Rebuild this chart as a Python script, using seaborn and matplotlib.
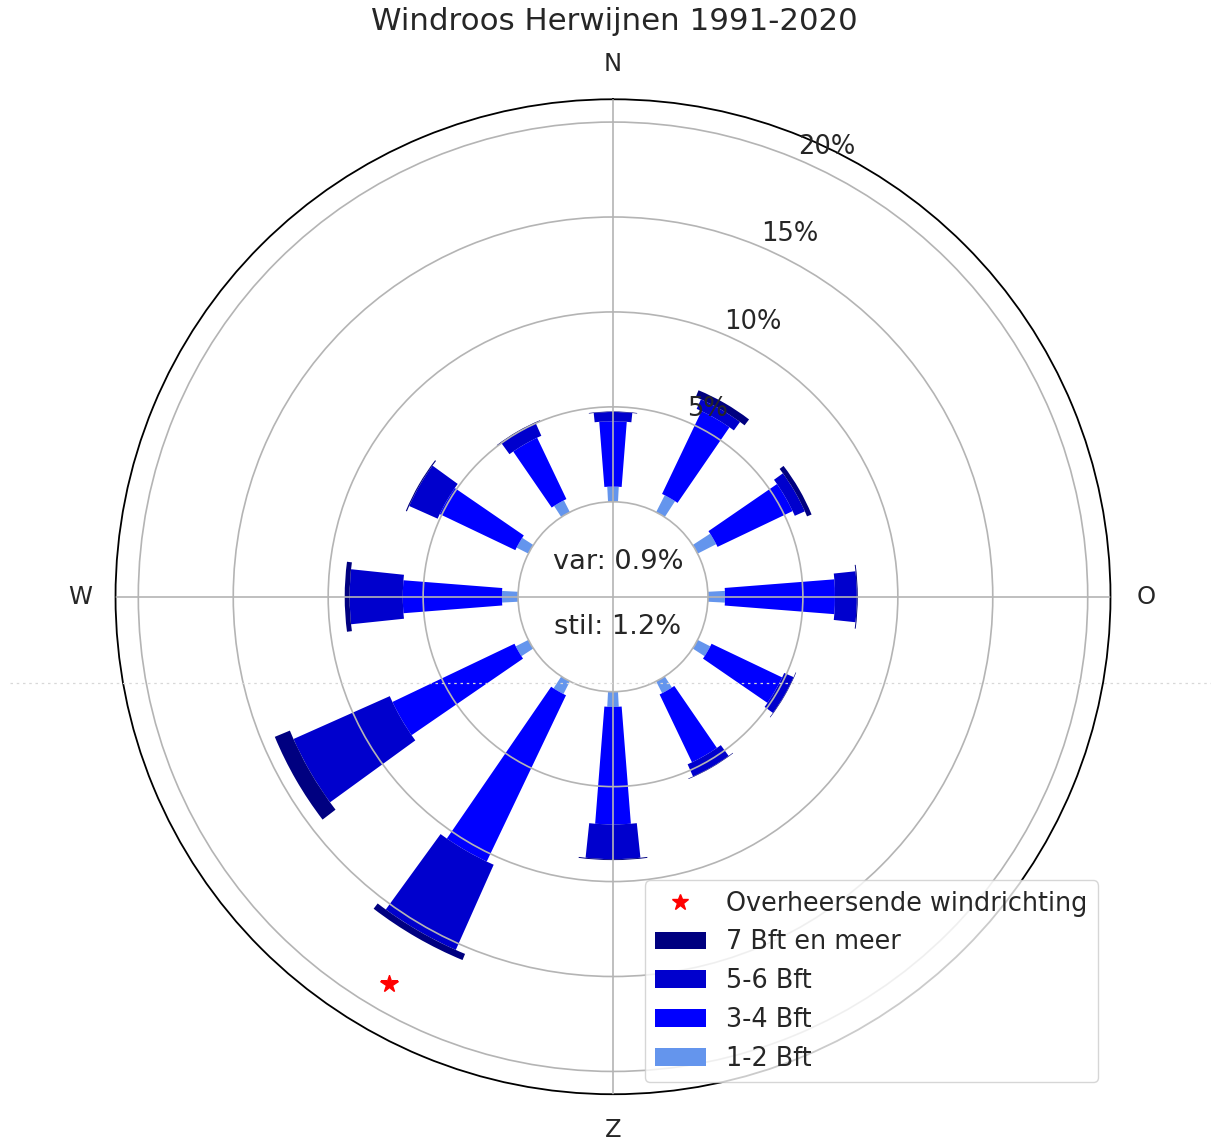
import numpy as np
import pandas as pd
import matplotlib
matplotlib.use("Agg")
import matplotlib.pyplot as plt
from matplotlib.lines import Line2D
from matplotlib.patches import Patch
import seaborn as sns

# Wind direction sectors (degrees, clockwise from north)
directions = [0, 30, 60, 90, 120, 150, 180, 210, 240, 270, 300, 330]

# Frequency per sector and Beaufort class (% of all hours)
bft_1_2 = [0.80, 1.00, 1.10, 0.90, 0.75, 0.70, 0.80, 0.75, 0.75, 0.85, 0.70, 0.70]
bft_3_4 = [3.44, 4.83, 4.38, 5.79, 4.12, 3.96, 6.19, 9.70, 7.12, 5.22, 4.41, 3.58]
bft_5_6 = [0.49, 0.55, 0.58, 1.15, 0.54, 0.70, 1.83, 4.91, 5.55, 2.80, 1.64, 0.73]
bft_7_plus = [0.03, 0.39, 0.26, 0.05, 0.03, 0.03, 0.05, 0.35, 0.86, 0.26, 0.06, 0.05]

class_labels = ["1-2 Bft", "3-4 Bft", "5-6 Bft", "7 Bft en meer"]
class_colors = ["cornflowerblue", "blue", "mediumblue", "navy"]
class_widths_deg = [6, 9, 12, 15]

variable_pct = 0.9
calm_pct = 1.2
prevailing_direction = 210

compass_angles = [0, 90, 180, 270]
compass_labels = ["N", "O", "Z", "W"]
ring_ticks = [5, 10, 15, 20, 25]
ring_labels = ["", "5%", "10%", "15%", "20%"]

hole = 5.0      # empty centre, in radial units
rmax = 26.2

df = pd.DataFrame({
    "richting": directions,
    class_labels[0]: bft_1_2,
    class_labels[1]: bft_3_4,
    class_labels[2]: bft_5_6,
    class_labels[3]: bft_7_plus,
})

sns.set_theme(style="white")
plt.rcParams["font.family"] = ["DejaVu Sans"]
text_color = "#262626"

fig = plt.figure(figsize=(12.11, 11.42), dpi=100)
ax = fig.add_axes([0.0954, 0.0418, 0.8216, 0.8713], projection="polar")
ax.set_theta_zero_location("N")
ax.set_theta_direction(-1)

theta = np.deg2rad(df["richting"].to_numpy())
bottom = np.full(len(df), hole)
for label, color, w in zip(class_labels, class_colors, class_widths_deg):
    vals = df[label].to_numpy()
    ax.bar(theta, vals, width=np.deg2rad(w), bottom=bottom, color=color,
           edgecolor="none", linewidth=0, zorder=1)
    bottom = bottom + vals

# Prevailing wind direction marker
ax.plot(np.deg2rad(prevailing_direction), 0.9 * rmax, marker="*", color="red",
        markersize=13, linestyle="none", zorder=4)

ax.set_ylim(0, rmax)
ax.set_yticks(ring_ticks)
ax.set_yticklabels(ring_labels, fontsize=18.5, color=text_color)
ax.set_rlabel_position(23)
ax.set_xticks(np.deg2rad(compass_angles))
ax.set_xticklabels(compass_labels, fontsize=17.5, color=text_color)
ax.tick_params(axis="x", pad=12.5)
ax.grid(True, color="#b4b4b4", linewidth=1.2)
ax.set_axisbelow(False)
ax.spines["polar"].set_color("black")
ax.spines["polar"].set_linewidth(1.3)
ax.set_facecolor("white")

ax.text(0.505, 0.5 + 35 / 995, f"var: {variable_pct}%", transform=ax.transAxes,
        ha="center", va="center", fontsize=19.6, color=text_color, zorder=5)
ax.text(0.505, 0.5 - 30 / 995, f"stil: {calm_pct}%", transform=ax.transAxes,
        ha="center", va="center", fontsize=19.6, color=text_color, zorder=5)

fig.text(0.507, 0.981, "Windroos Herwijnen 1991-2020", ha="center", va="center",
         fontsize=22.2, color=text_color)

handles = [Line2D([], [], marker="*", color="red", linestyle="none", markersize=12)]
handles += [Patch(facecolor=c, edgecolor="none") for c in class_colors[::-1]]
labels = ["Overheersende windrichting"] + class_labels[::-1]
fig.legend(handles, labels, loc="lower right", bbox_to_anchor=(0.9067, 0.0525),
           borderaxespad=0, fontsize=18.4, frameon=True, framealpha=0.8,
           edgecolor="#cccccc", fancybox=True, labelcolor=text_color)

# faint dotted rule across the sheet
fig.add_artist(Line2D([0.008, 1.0], [1 - 683 / 1142, 1 - 683 / 1142],
                      transform=fig.transFigure, color="#d8d8d8",
                      linestyle=(0, (2, 3)), linewidth=0.9, zorder=10))

fig.savefig("out.png", dpi=100, facecolor="white")
